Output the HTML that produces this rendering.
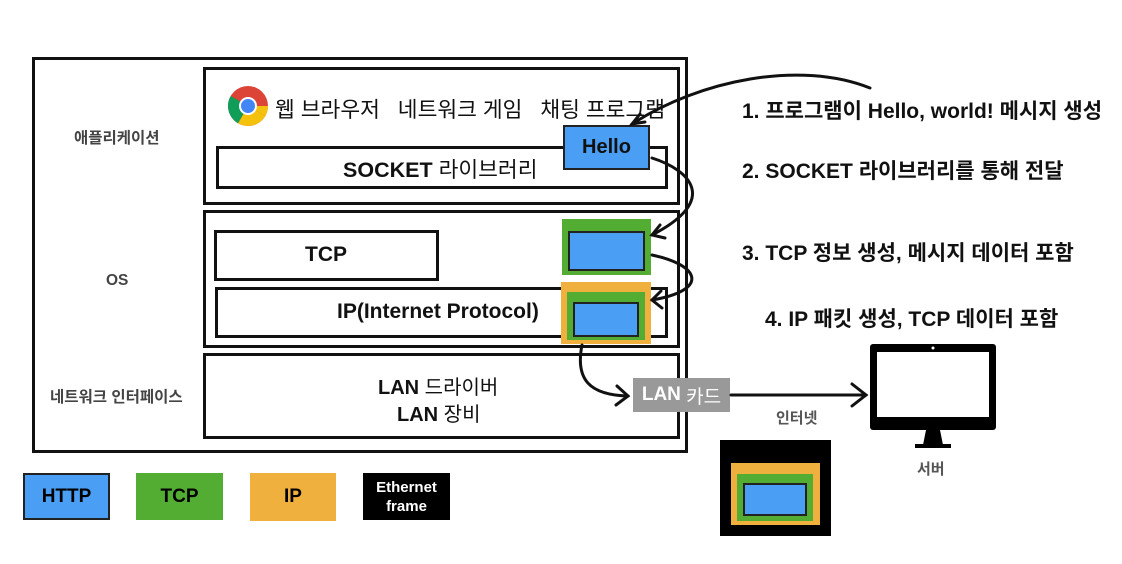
<!DOCTYPE html>
<html><head><meta charset="utf-8"><style>
body{margin:0;width:1122px;height:564px;background:#fff;position:relative;overflow:hidden;font-family:"Liberation Sans","Noto Sans CJK KR",sans-serif;}
.a{position:absolute;box-sizing:border-box;}
.b{border:3px solid #111;}
.t{position:absolute;white-space:nowrap;}
.c{display:flex;align-items:center;justify-content:center;}
.r{position:absolute;white-space:nowrap;font-size:21px;font-weight:bold;color:#111;}
.l{position:absolute;white-space:nowrap;font-size:15.5px;color:#444;font-weight:bold;}
</style></head><body>
<div class="a b" style="left:32px;top:57px;width:656px;height:396px;"></div>
<div class="a b" style="left:203px;top:67px;width:477px;height:138px;"></div>
<div class="a b" style="left:216px;top:146px;width:452px;height:43px;"></div>
<div class="a b" style="left:203px;top:210px;width:477px;height:138px;"></div>
<div class="a b" style="left:214px;top:230px;width:225px;height:51px;"></div>
<div class="a b" style="left:215px;top:287px;width:453px;height:51px;"></div>
<div class="a b" style="left:203px;top:353px;width:477px;height:86px;"></div>

<div class="l" style="left:74px;top:126px;">애플리케이션</div>
<div class="l" style="left:106px;top:272px;">OS</div>
<div class="l" style="left:50px;top:385px;">네트워크 인터페이스</div>

<svg class="a" style="left:227px;top:85px" width="42" height="42" viewBox="0 0 42 42">
<circle cx="21" cy="21" r="20" fill="#db4437"/>
<path d="M21 21 L38.3 31 A20 20 0 0 1 11 38.3 Z" fill="#f4c20d"/>
<path d="M21 21 L11 38.3 A20 20 0 0 1 1 21 A20 20 0 0 1 3.7 11 Z" fill="#0f9d58"/>
<path d="M21 21 L41 21 A20 20 0 0 1 38.3 31 Z" fill="#f4c20d"/>
<circle cx="21" cy="21" r="9" fill="#fff"/><circle cx="21" cy="21" r="7" fill="#4285f4"/>
</svg>
<div class="t" style="left:275px;top:93px;font-size:21.5px;color:#111;">웹 브라우저&nbsp;&nbsp;&nbsp;네트워크 게임&nbsp;&nbsp;&nbsp;채팅 프로그램</div>
<div class="t" style="left:343px;top:153px;font-size:21.5px;color:#111;font-weight:bold;">SOCKET <span style="font-weight:normal">라이브러리</span></div>
<div class="t" style="left:305px;top:243px;font-size:21px;color:#111;font-weight:bold;">TCP</div>
<div class="t" style="left:337px;top:300px;font-size:21px;color:#111;font-weight:bold;">IP(Internet Protocol)</div>
<div class="t" style="left:378px;top:371px;font-size:20px;color:#111;font-weight:bold;">LAN <span style="font-weight:normal">드라이버</span></div>
<div class="t" style="left:397px;top:398px;font-size:20px;color:#111;font-weight:bold;">LAN <span style="font-weight:normal">장비</span></div>

<div class="a c" style="left:563px;top:125px;width:87px;height:45px;background:#4a9ff5;border:2px solid #222;font-size:20px;font-weight:bold;color:#111;">Hello</div>
<div class="a" style="left:562px;top:219px;width:89px;height:56px;background:#52ad32;"></div>
<div class="a" style="left:568px;top:231px;width:77px;height:40px;background:#4a9ff5;border:2px solid #222;"></div>
<div class="a" style="left:561px;top:282px;width:90px;height:62px;background:#f0b03e;"></div>
<div class="a" style="left:567px;top:292px;width:78px;height:48px;background:#52ad32;"></div>
<div class="a" style="left:573px;top:302px;width:66px;height:35px;background:#4a9ff5;border:2px solid #222;"></div>

<div class="a c" style="left:633px;top:378px;width:97px;height:34px;background:#999;color:#fff;font-size:19px;font-weight:bold;">LAN <span style="font-weight:normal">&nbsp;카드</span></div>
<div class="t" style="left:776px;top:407px;font-size:15px;color:#555;font-weight:bold;">인터넷</div>
<div class="t" style="left:917px;top:458px;font-size:15px;color:#555;font-weight:bold;">서버</div>

<div class="a" style="left:720px;top:440px;width:111px;height:96px;background:#000;"></div>
<div class="a" style="left:731px;top:463px;width:89px;height:62px;background:#f0b03e;"></div>
<div class="a" style="left:737px;top:474px;width:76px;height:47px;background:#52ad32;"></div>
<div class="a" style="left:743px;top:483px;width:64px;height:33px;background:#4a9ff5;border:2px solid #222;"></div>

<svg class="a" style="left:0;top:0" width="1122" height="564">
<rect x="870" y="344" width="126" height="86" rx="3" fill="#000"/>
<rect x="877" y="352" width="112" height="65" fill="#fff"/>
<circle cx="933" cy="348" r="1.5" fill="#fff"/>
<path d="M926 430 L940 430 L943 445 L923 445 Z" fill="#000"/>
<rect x="915" y="444" width="36" height="4" fill="#000"/>
<g fill="none" stroke="#111" stroke-width="3" stroke-linecap="round">
<path d="M870 88 C800 60 700 80 632 124"/>
<path d="M640 114 L632 124 L645 122"/>
<path d="M652 158 C690 170 720 200 652 235"/>
<path d="M660 225 L652 235 L665 238"/>
<path d="M652 255 C700 265 710 290 652 300"/>
<path d="M661 291 L652 300 L662 308"/>
<path d="M582 345 C575 380 590 395 628 396"/>
<path d="M617 386 L628 396 L616 405"/>
<path d="M731 395 L866 395"/>
<path d="M852 384 L866 395 L852 406"/>
</g>
</svg>

<div class="r" style="left:742px;top:95px;">1. 프로그램이 Hello, world! 메시지 생성</div>
<div class="r" style="left:742px;top:155px;">2. SOCKET 라이브러리를 통해 전달</div>
<div class="r" style="left:742px;top:237px;">3. TCP 정보 생성, 메시지 데이터 포함</div>
<div class="r" style="left:765px;top:303px;">4. IP 패킷 생성, TCP 데이터 포함</div>

<div class="a c" style="left:23px;top:473px;width:87px;height:47px;background:#4a9ff5;border:2px solid #222;font-size:19px;font-weight:bold;">HTTP</div>
<div class="a c" style="left:136px;top:473px;width:87px;height:47px;background:#52ad32;font-size:19px;font-weight:bold;">TCP</div>
<div class="a c" style="left:250px;top:473px;width:86px;height:48px;background:#f0b03e;font-size:19px;font-weight:bold;">IP</div>
<div class="a c" style="left:363px;top:473px;width:87px;height:47px;background:#000;color:#fff;font-size:15px;font-weight:bold;text-align:center;line-height:19px;">Ethernet<br>frame</div>
</body></html>
